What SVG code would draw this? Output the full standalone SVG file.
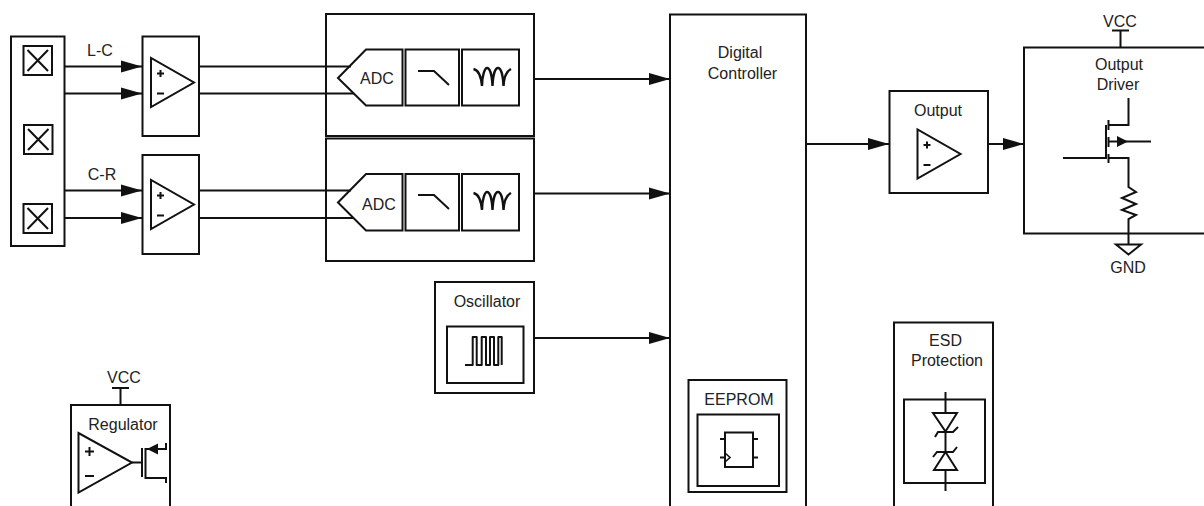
<svg xmlns="http://www.w3.org/2000/svg" width="1204" height="506" viewBox="0 0 1204 506">
<style>
.b{fill:#fff;stroke:#111;stroke-width:2}
.o{fill:none;stroke:#111;stroke-width:2}
.n{fill:none;stroke:#111;stroke-width:2}
.t{fill:none;stroke:#111;stroke-width:1.6}
.i{fill:none;stroke:#111;stroke-width:2.4}
.f{fill:#111;stroke:none}
text{font-family:"Liberation Sans",Arial,sans-serif;font-size:16px;fill:#222;text-anchor:middle}
</style>
<defs>
<marker id="a" markerUnits="userSpaceOnUse" markerWidth="22" markerHeight="14" refX="21" refY="7" orient="auto"><path d="M0 1 L21 7 L0 13 Z" fill="#111"/></marker>
<g id="amp"><path class="b" d="M0 0 V49 L43 24.500 Z"/><path class="n" d="M6 15.500 H13 M9.500 12 V19 M6 35.500 H13"/></g>
<g id="xb"><rect class="b" x="0" y="0" width="28.500" height="29"/><path class="n" d="M4 4 L24.500 25 M24.500 4 L4 25"/></g>
</defs>
<g id="connectors">
<path class="n" marker-end="url(#a)" d="M65 66.500 H142"/>
<path class="n" marker-end="url(#a)" d="M65 93.500 H142"/>
<path class="n" marker-end="url(#a)" d="M65 190.500 H142"/>
<path class="n" marker-end="url(#a)" d="M65 218 H142"/>
<path class="n" d="M199 66.500 H351 M199 93.500 H354 M199 190.500 H351 M199 218 H354"/>
<path class="n" marker-end="url(#a)" d="M534 79 H670"/>
<path class="n" marker-end="url(#a)" d="M534 193.500 H670"/>
<path class="n" marker-end="url(#a)" d="M534 338 H670"/>
<path class="n" marker-end="url(#a)" d="M806 144 H889"/>
<path class="n" marker-end="url(#a)" d="M988 144 H1024"/>
</g>
<g id="bridge"><rect class="b" x="11" y="36.500" width="53.500" height="209.500"/>
<use href="#xb" x="23.500" y="46"/><use href="#xb" x="24" y="125"/><use href="#xb" x="23.500" y="204"/>
<text x="100" y="55.500">L-C</text><text x="102" y="179.500">C-R</text></g>
<g id="amp1"><rect class="b" x="142.500" y="36.500" width="56.500" height="99.500"/><use href="#amp" x="151" y="58"/></g>
<g id="amp2"><rect class="b" x="142.500" y="155" width="56.500" height="99"/><use href="#amp" x="151" y="180"/></g>
<g id="adc1"><rect class="o" x="326" y="14" width="208" height="122"/>
<path class="n" d="M338 78 L366 49.500 H402.500 V105.500 H366 Z"/>
<rect class="n" x="405.500" y="49.500" width="53.500" height="56"/><rect class="n" x="462" y="49.500" width="57" height="56"/>
<path class="n" d="M418 71 H434 L449 85"/>
<path class="i" d="M473.500 69 C478 70 481 75 482 86 C482 75 485 68 487 68 C490 68 492 75 492.500 86 C493 75 495 68 498 68 C501 68 503 75 503.500 86 C504 77 507 71 511 69"/>
<text x="377" y="83.500">ADC</text></g>
<g id="adc2"><rect class="o" x="326" y="138.500" width="208" height="122.500"/>
<path class="n" d="M338 202.500 L366 174 H402.500 V230.500 H366 Z"/>
<rect class="n" x="405.500" y="174" width="53.500" height="56.500"/><rect class="n" x="462" y="174" width="57" height="56.500"/>
<path class="n" d="M418 195 H434 L449 209"/>
<path class="i" d="M473.500 193 C478 194 481 199 482 210 C482 199 485 192 487 192 C490 192 492 199 492.500 210 C493 199 495 192 498 192 C501 192 503 199 503.500 210 C504 201 507 195 511 193"/>
<text x="379" y="209.500">ADC</text></g>
<g id="oscillator"><rect class="b" x="435" y="282" width="99" height="111"/><rect class="n" x="447" y="326.500" width="76.500" height="56.500"/>
<path class="n" stroke-linejoin="round" d="M465 365 H472.700 V337 H476.700 V365 H481.700 V337 H486 V365 H490 V337 H494 V365 H498.300 V337 H501.700 V365"/>
<text x="487" y="306.500">Oscillator</text></g>
<g id="controller"><path class="b" d="M670 510 V14.500 H806 V510"/>
<text x="740" y="58">Digital</text><text x="742.500" y="78.500">Controller</text>
<rect class="n" x="688.500" y="380" width="98" height="112"/><rect class="n" x="697.500" y="414.500" width="81.500" height="71.500"/>
<text x="739" y="404.500">EEPROM</text>
<rect class="n" x="725" y="432.500" width="28" height="34.500"/>
<path class="n" d="M720 439 H725 M753 439 H758 M720 457.500 H725 M753 457.500 H758"/>
<path class="t" d="M725 453 L730 457.500 L725 462"/></g>
<g id="output"><rect class="b" x="889.500" y="91" width="98.500" height="102"/><use href="#amp" x="917.500" y="129.500"/>
<text x="938" y="115.500">Output</text></g>
<g id="esd"><path class="b" d="M894 510 V322.500 H993 V510"/><text x="945.500" y="346">ESD</text><text x="947" y="366">Protection</text>
<rect class="n" x="904" y="399.500" width="81" height="83.500"/>
<path class="n" d="M945.500 392 V491"/>
<path class="b" d="M933 413 H957 L945.500 431.500 Z"/>
<path class="b" d="M934 470 H957 L945.500 452 Z"/>
<path class="n" d="M935 437 L938 432 H953 L958 427 M933 457 L937 452 H953 L957 447"/></g>
<g id="driver"><path class="b" d="M1210 47.500 H1024 V233.500 H1210"/>
<text x="1120" y="27">VCC</text><path class="n" d="M1112 30.500 H1129 M1120.500 30.500 V47"/>
<text x="1119" y="69.500">Output</text><text x="1118" y="89.500">Driver</text>
<path class="n" d="M1063 158 H1106 M1106 125 V159 M1108.500 120 V130 M1108.500 137 V147 M1108.500 154 V163 M1109 125 H1128.500 V98 M1109 158 H1128.500 V187 L1136 192 L1122 198 L1136 204 L1122 210 L1136 215 L1128.500 219 V244"/>
<path class="f" d="M1117 136 L1128 141.500 L1117 147 Z"/>
<path class="n" d="M1109 141.500 H1151"/>
<path class="n" d="M1116 244.500 H1141 L1128.500 254.500 Z"/>
<text x="1128" y="272.500">GND</text></g>
<g id="regulator"><path class="b" d="M71 510 V405 H170 V510"/>
<text x="124" y="382.500">VCC</text><path class="n" d="M112 388 H129 M120.500 388 V405"/>
<text x="123" y="429.500">Regulator</text>
<path class="b" d="M78.500 433 V492.500 L132 462.500 Z"/>
<path class="n" d="M85 451.500 H94 M89.500 447 V456 M85 476 H94 M132 462.500 H142 M142 448 V477 M145.500 448 V479 M145.500 449 H166 V443 M145.500 478 H166 V483"/>
<path class="f" d="M147 449 L158 443.500 V454.500 Z"/></g>
</svg>
